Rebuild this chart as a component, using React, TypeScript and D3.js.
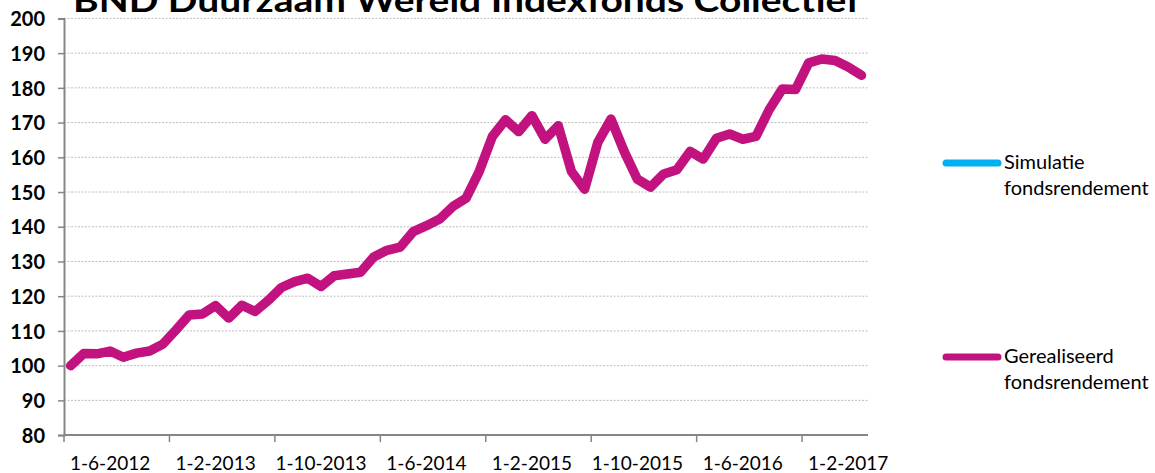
import { useEffect, useRef } from "react";
import * as d3 from "d3";

// monthly observations, 1-6-2012 .. 1-6-2017
const dates = [
  "1-6-2012", "1-7-2012", "1-8-2012", "1-9-2012", "1-10-2012", "1-11-2012", "1-12-2012",
  "1-1-2013", "1-2-2013", "1-3-2013", "1-4-2013", "1-5-2013", "1-6-2013", "1-7-2013",
  "1-8-2013", "1-9-2013", "1-10-2013", "1-11-2013", "1-12-2013", "1-1-2014", "1-2-2014",
  "1-3-2014", "1-4-2014", "1-5-2014", "1-6-2014", "1-7-2014", "1-8-2014", "1-9-2014",
  "1-10-2014", "1-11-2014", "1-12-2014", "1-1-2015", "1-2-2015", "1-3-2015", "1-4-2015",
  "1-5-2015", "1-6-2015", "1-7-2015", "1-8-2015", "1-9-2015", "1-10-2015", "1-11-2015",
  "1-12-2015", "1-1-2016", "1-2-2016", "1-3-2016", "1-4-2016", "1-5-2016", "1-6-2016",
  "1-7-2016", "1-8-2016", "1-9-2016", "1-10-2016", "1-11-2016", "1-12-2016", "1-1-2017",
  "1-2-2017", "1-3-2017", "1-4-2017", "1-5-2017", "1-6-2017",
];

const gerealiseerd = [
  100.0, 103.5, 103.4, 104.2, 102.4, 103.6, 104.2, 106.2, 110.3, 114.6,
  114.9, 117.3, 113.7, 117.4, 115.6, 118.8, 122.5, 124.2, 125.2, 122.8,
  125.9, 126.4, 126.9, 131.3, 133.2, 134.1, 138.6, 140.3, 142.2, 145.8,
  148.2, 155.9, 166.0, 170.8, 167.4, 172.0, 165.2, 169.1, 155.9, 150.8,
  164.3, 171.0, 161.7, 153.7, 151.4, 155.2, 156.4, 161.7, 159.5, 165.5,
  166.7, 165.2, 166.0, 173.7, 179.7, 179.5, 187.2, 188.3, 187.9, 186.0,
  183.6,
];

// no simulated values are plotted in the source
const simulatie: number[] = [];

const yTicks = [80, 90, 100, 110, 120, 130, 140, 150, 160, 170, 180, 190, 200];
const labelEvery = 8;

const legendItems = [
  { lines: ["Simulatie", "fondsrendement"], color: "#00B0F0" },
  { lines: ["Gerealiseerd", "fondsrendement"], color: "#C2127F" },
];

const title = "BND Duurzaam Wereld Indexfonds Collectief";

export default function App() {
  const svgRef = useRef<SVGSVGElement | null>(null);

  useEffect(() => {
    const svgEl = svgRef.current;
    if (!svgEl) return;

    const width = 1155;
    const height = 473;
    const plot = { left: 64, right: 868, top: 18.4, bottom: 435.1 };
    const font = "Lato, 'Open Sans', sans-serif";

    const svg = d3.select(svgEl);
    svg.selectAll("*").remove();
    svg.attr("viewBox", `0 0 ${width} ${height}`);

    const x = d3.scaleBand().domain(dates).range([plot.left, plot.right]).padding(0);
    const y = d3.scaleLinear().domain([80, 200]).range([plot.bottom, plot.top]);
    const step = x.step();

    // gridlines
    svg
      .append("g")
      .selectAll("line")
      .data(yTicks.filter((t) => t > 80))
      .join("line")
      .attr("x1", plot.left)
      .attr("x2", plot.right)
      .attr("y1", (d) => y(d))
      .attr("y2", (d) => y(d))
      .attr("stroke", "#BDBDBD")
      .attr("stroke-width", 1)
      .attr("stroke-dasharray", "2,1.5");

    // y axis
    const yAxis = svg
      .append("g")
      .attr("transform", `translate(${plot.left},0)`)
      .call(d3.axisLeft(y).tickValues(yTicks).tickSize(6).tickPadding(13));
    yAxis.select(".domain").attr("stroke", "#868686").attr("stroke-width", 2);
    yAxis.selectAll(".tick line").attr("stroke", "#868686").attr("stroke-width", 1.5);
    yAxis
      .selectAll("text")
      .attr("font-family", font)
      .attr("font-weight", 700)
      .attr("font-size", 20)
      .attr("fill", "#000")
      .attr("dy", "0.36em");

    // x axis: ticks at band edges every 8 months
    const tickIdx = d3.range(0, dates.length + 1, labelEvery);
    const xg = svg.append("g");
    xg.append("line")
      .attr("x1", plot.left)
      .attr("x2", plot.right)
      .attr("y1", plot.bottom)
      .attr("y2", plot.bottom)
      .attr("stroke", "#868686")
      .attr("stroke-width", 2);
    xg.selectAll("line.tick")
      .data(tickIdx)
      .join("line")
      .attr("class", "tick")
      .attr("x1", (i) => plot.left + i * step)
      .attr("x2", (i) => plot.left + i * step)
      .attr("y1", plot.bottom)
      .attr("y2", plot.bottom + 7)
      .attr("stroke", "#868686")
      .attr("stroke-width", 1.5);
    xg.selectAll("text")
      .data(tickIdx.filter((i) => i < dates.length))
      .join("text")
      .attr("x", (i) => plot.left + (i + 3.5) * step)
      .attr("y", 470)
      .attr("text-anchor", "middle")
      .attr("font-family", font)
      .attr("font-size", 19)
      .attr("fill", "#000")
      .text((i) => dates[i]);

    const line = d3
      .line<number>()
      .x((_, i) => (x(dates[i]) ?? 0) + step / 2)
      .y((d) => y(d));

    if (simulatie.length) {
      svg
        .append("path")
        .datum(simulatie)
        .attr("d", line)
        .attr("fill", "none")
        .attr("stroke", legendItems[0].color)
        .attr("stroke-width", 9.5)
        .attr("stroke-linejoin", "round")
        .attr("stroke-linecap", "round");
    }

    svg
      .append("path")
      .datum(gerealiseerd)
      .attr("d", line)
      .attr("fill", "none")
      .attr("stroke", legendItems[1].color)
      .attr("stroke-width", 9.5)
      .attr("stroke-linejoin", "round")
      .attr("stroke-linecap", "round");

    // title, clipped at the top like the source
    svg
      .append("text")
      .attr("x", 73)
      .attr("y", 12)
      .attr("font-family", font)
      .attr("font-weight", 700)
      .attr("font-size", 33)
      .attr("textLength", 787)
      .attr("lengthAdjust", "spacingAndGlyphs")
      .attr("fill", "#000")
      .text(title);

    // legend
    const legend = svg
      .selectAll("g.legend")
      .data(legendItems)
      .join("g")
      .attr("class", "legend")
      .attr("transform", (_, i) => `translate(0,${i === 0 ? 163 : 357})`);
    legend
      .append("line")
      .attr("x1", 946)
      .attr("x2", 998)
      .attr("y1", 0)
      .attr("y2", 0)
      .attr("stroke", (d) => d.color)
      .attr("stroke-width", 7)
      .attr("stroke-linecap", "round");
    legend
      .append("text")
      .attr("x", 1004)
      .attr("y", 6)
      .attr("font-family", font)
      .attr("font-size", 20)
      .attr("fill", "#000")
      .selectAll("tspan")
      .data((d) => d.lines)
      .join("tspan")
      .attr("x", 1004)
      .attr("dy", (_, i) => (i === 0 ? 0 : 26))
      .text((d) => d);
  }, []);

  return (
    <div style={{ position: "absolute", left: 0, top: 0, background: "#fff" }}>
      <svg ref={svgRef} width={1155} height={473} style={{ display: "block" }} />
    </div>
  );
}
